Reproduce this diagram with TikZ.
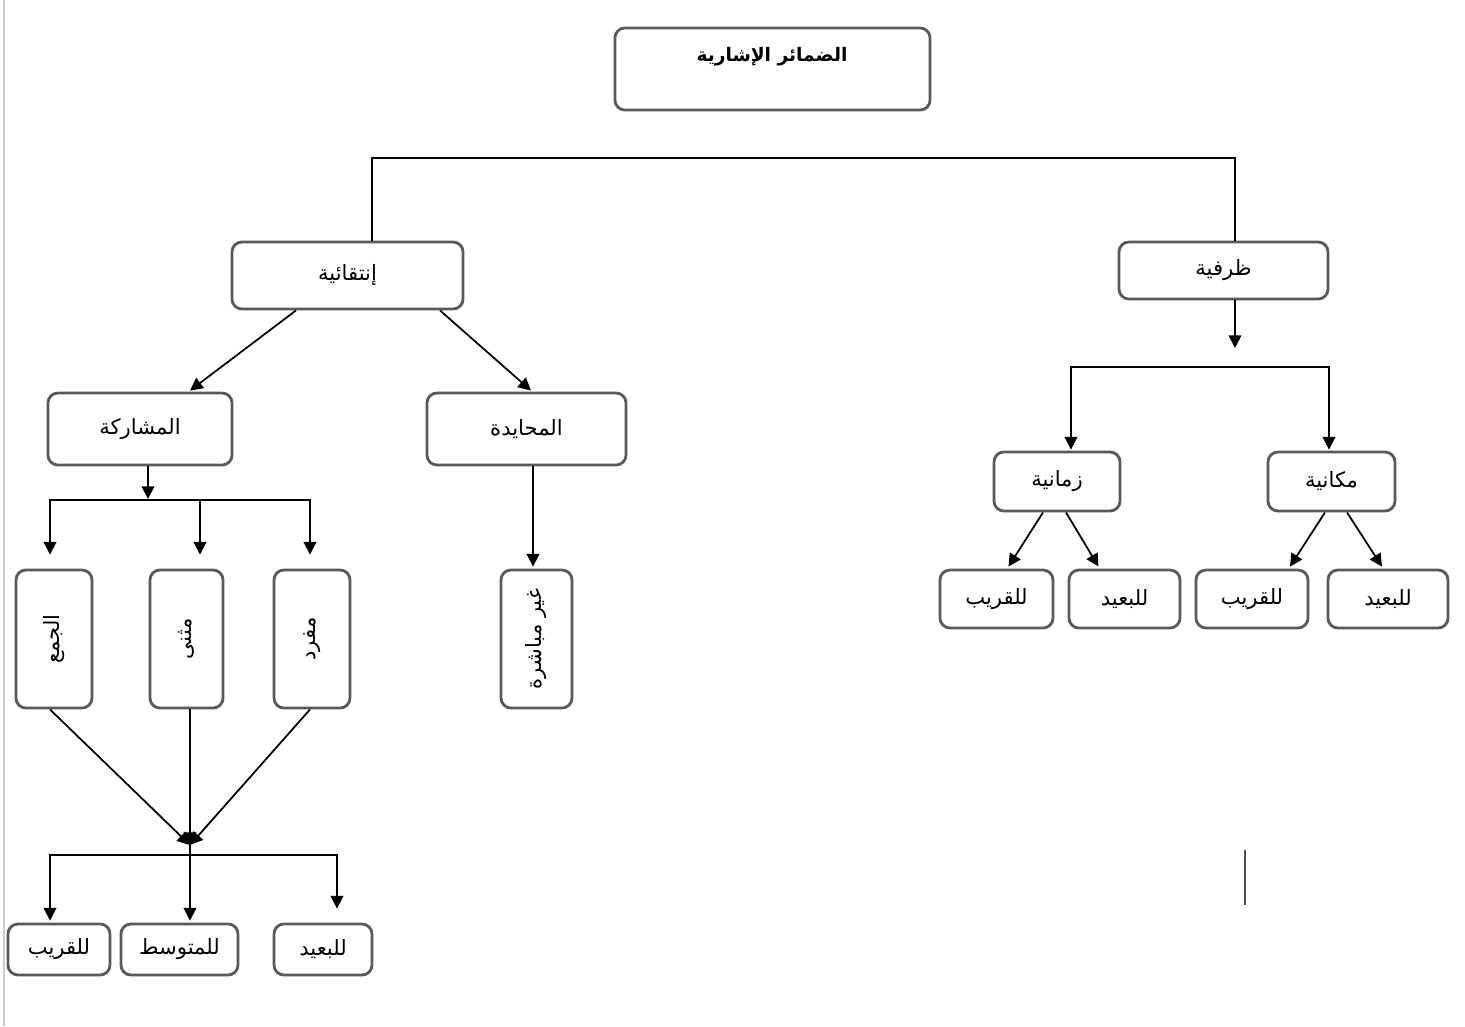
\documentclass[tikz,border=0pt]{standalone}
\usepackage{fontspec}
\newfontfamily\arabicfont[Script=Arabic]{DejaVu Sans}
\TeXXeTstate=1
\usetikzlibrary{arrows.meta,calc}
\newcommand{\artxt}[1]{{\arabicfont\beginR #1\endR}}

\begin{document}
\begin{tikzpicture}[x=0.01cm, y=-0.01cm, line width=0.5pt, font=\fontsize{6}{7}\selectfont, % 1 unit = 1 pixel of the page
  box/.style={draw=black!65, line width=0.8pt, rounded corners=0.1cm, inner sep=0pt},
  arr/.style={-{Triangle[length=3.6pt,width=3.6pt]}},
  arrs/.style={{Triangle[length=3.6pt,width=3.6pt]}-{Triangle[length=3.6pt,width=3.6pt]}}]
  \useasboundingbox (0,0) rectangle (1465,1026);
  \draw[black!20, line width=0.6pt] (4,0) -- (4,1026); % page edge

  % Top
  \node[box, minimum width=3.15cm, minimum height=0.82cm] (top) at (772.5,69) {};
  \node[font=\fontsize{5.3}{6}\selectfont\bfseries] (topT) at (772,57) {\artxt{الضمائر الإشارية}};

  % Second level
  \node[box, minimum width=2.31cm, minimum height=0.67cm] (intiq) at (347.5,275.5) {\artxt{إنتقائية}};
  \node[box, minimum width=2.09cm, minimum height=0.57cm] (zarf) at (1223.5,270.5) {\artxt{ظرفية}};
  \coordinate (brL) at (372,158);
  \coordinate (brR) at (1235,158);
  \draw (intiq.north -| brL) -- (brL) -- (brR) -- (zarf.north -| brR);

  % Right branch
  \node[box, minimum width=1.26cm, minimum height=0.59cm] (zaman) at (1057,481.5) {\artxt{زمانية}};
  \node[box, minimum width=1.27cm, minimum height=0.59cm] (makan) at (1331.5,481.5) {\artxt{مكانية}};
  \coordinate (zsplit) at (1235,348);
  \coordinate (zl) at (1071,367);
  \coordinate (zr) at (1329,367);
  \draw[arr] (zarf.south -| zsplit) -- (zsplit);
  \draw[arrs] ($(zaman.north -| zl)+(0,-1)$) |- (zr) -- ($(makan.north -| zr)+(0,-1)$);

  \node[box, minimum width=1.13cm, minimum height=0.58cm] (rq1) at (996.5,599) {\artxt{للقريب}};
  \node[box, minimum width=1.11cm, minimum height=0.58cm] (rb1) at (1124.5,599) {\artxt{للبعيد}};
  \node[box, minimum width=1.12cm, minimum height=0.58cm] (rq2) at (1252,599) {\artxt{للقريب}};
  \node[box, minimum width=1.20cm, minimum height=0.58cm] (rb2) at (1388,599) {\artxt{للبعيد}};
  \draw[arr] ($(zaman.south)+(-14,0)$) -- ($(rq1.north)+(12,-2)$);
  \draw[arr] ($(zaman.south)+(9,0)$) -- ($(rb1.north)+(-26,-2)$);
  \draw[arr] ($(makan.south)+(-6.5,0)$) -- ($(rq2.north)+(38,-2)$);
  \draw[arr] ($(makan.south)+(15.5,0)$) -- ($(rb2.north)+(-6,-2)$);

  % Left branch
  \node[box, minimum width=1.84cm, minimum height=0.72cm] (mush) at (140,429) {\artxt{المشاركة}};
  \node[box, minimum width=1.99cm, minimum height=0.72cm] (muhay) at (526.5,429) {\artxt{المحايدة}};
  \draw[arr] ($(intiq.south)+(-51.5,0)$) -- ($(mush.north)+(50,-1)$);
  \draw[arr] ($(intiq.south)+(92.5,0)$) -- ($(muhay.north)+(4.5,-1)$);

  \node[box, minimum width=0.76cm, minimum height=1.38cm] (jam) at (54,639) {\rotatebox{90}{\artxt{الجمع}}};
  \node[box, minimum width=0.73cm, minimum height=1.38cm] (muth) at (186.5,639) {\rotatebox{90}{\artxt{مثنى}}};
  \node[box, minimum width=0.76cm, minimum height=1.38cm] (mufr) at (312,639) {\rotatebox{90}{\artxt{مفرد}}};
  \node[box, minimum width=0.71cm, minimum height=1.38cm] (ghayr) at (536.5,639) {\rotatebox{90}{\artxt{غير مباشرة}}};

  \coordinate (mj) at (148,499);
  \coordinate (ml) at (50,500);
  \coordinate (mm) at (200,500);
  \coordinate (mr) at (310,500);
  \draw[arr] (mush.south -| mj) -- (mj);
  \draw[arrs] ($(jam.north -| ml)+(0,-14)$) |- (mr) -- ($(mufr.north -| mr)+(0,-14)$);
  \draw[arr] (mm) -- ($(muth.north -| mm)+(0,-14)$);
  \draw[arr] ($(muhay.south)+(6.5,0)$) -- ($(ghayr.north)+(-3.5,-2)$);

  % Joining the three
  \coordinate (conv) at (190,845);
  \draw[arr] ($(jam.south)+(-4,0)$) -- (conv);
  \draw[arr] (muth.south -| conv) -- (conv);
  \draw[arr] ($(mufr.south)+(-2,0)$) -- (conv);

  \node[box, minimum width=1.02cm, minimum height=0.51cm] (bq) at (59,949.5) {\artxt{للقريب}};
  \node[box, minimum width=1.17cm, minimum height=0.51cm] (bm) at (179.5,949.5) {\artxt{للمتوسط}};
  \node[box, minimum width=0.98cm, minimum height=0.51cm] (bb) at (323,949.5) {\artxt{للبعيد}};
  \coordinate (bl) at (50,855);
  \coordinate (br) at (337,855);
  \draw[arrs] ($(bq.north -| bl)+(0,-2)$) |- (br) -- ($(bb.north -| br)+(0,-14)$);
  \draw[arr] (conv) -- ($(bm.north -| conv)+(0,-2)$);

  \draw[black!70, line width=0.6pt] (1245,850) -- (1245,905); % stray stroke
\end{tikzpicture}
\end{document}
